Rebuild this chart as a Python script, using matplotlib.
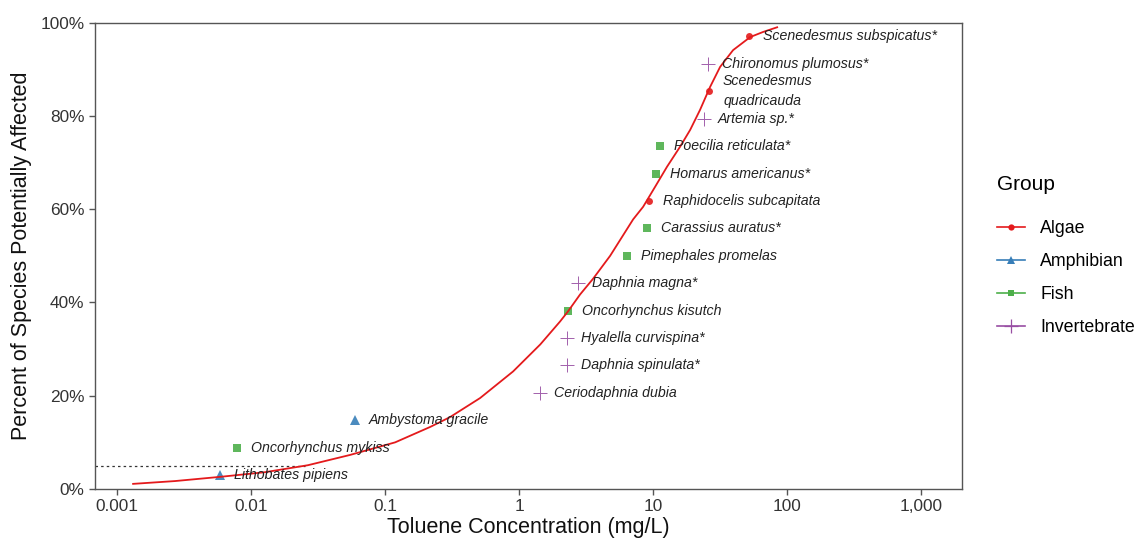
import matplotlib
matplotlib.use('Agg')
import matplotlib.pyplot as plt
from matplotlib.lines import Line2D
from matplotlib.ticker import FixedLocator, NullLocator

plt.rcParams['font.family'] = ['Liberation Sans', 'DejaVu Sans']

# species data (concentration mg/L, percent affected)
species = ['Lithobates pipiens', 'Oncorhynchus mykiss', 'Ambystoma gracile',
           'Ceriodaphnia dubia', 'Daphnia spinulata*', 'Hyalella curvispina*',
           'Oncorhynchus kisutch', 'Daphnia magna*', 'Pimephales promelas',
           'Carassius auratus*', 'Raphidocelis subcapitata', 'Homarus americanus*',
           'Poecilia reticulata*', 'Artemia sp.*', 'Scenedesmus\nquadricauda',
           'Chironomus plumosus*', 'Scenedesmus subspicatus*']
groups = ['Amphibian', 'Fish', 'Amphibian', 'Invertebrate', 'Invertebrate',
          'Invertebrate', 'Fish', 'Invertebrate', 'Fish', 'Fish', 'Algae', 'Fish',
          'Fish', 'Invertebrate', 'Algae', 'Invertebrate', 'Algae']
conc = [0.0059, 0.0079, 0.060, 1.44, 2.28, 2.28, 2.32, 2.76, 6.4, 9.0, 9.3,
        10.5, 11.3, 24.0, 26.2, 25.7, 52.0]
pct = [2.9, 8.8, 14.7, 20.6, 26.5, 32.4, 38.2, 44.1, 50.0, 55.9, 61.8, 67.6,
       73.5, 79.4, 85.3, 91.2, 97.1]

# fitted curve
curve_x = [0.00132, 0.00271, 0.00588, 0.0127, 0.0266, 0.0548, 0.119, 0.217,
           0.305, 0.512, 0.902, 1.44, 2.02, 2.32, 2.85, 3.57, 4.78, 7.09, 8.42,
           10.35, 12.7, 15.9, 18.9, 22.4, 26.6, 31.6, 39.5, 53.0, 66.2, 84.2]
curve_y = [1.1, 1.7, 2.6, 3.6, 5.1, 7.3, 10.0, 13.3, 15.4, 19.5, 25.2, 31.0,
           35.9, 38.1, 41.7, 45.1, 50.0, 57.8, 60.5, 64.8, 69.1, 73.4, 77.0,
           81.3, 86.2, 90.5, 94.1, 96.9, 98.0, 99.0]

hc5_x = 0.0253
hc5_y = 5

group_names = ['Algae', 'Amphibian', 'Fish', 'Invertebrate']
group_colors = {'Algae': '#E41A1C', 'Amphibian': '#377EB8', 'Fish': '#4DAF4A',
                'Invertebrate': '#984EA3'}
group_markers = {'Algae': 'o', 'Amphibian': '^', 'Fish': 's', 'Invertebrate': '+'}
group_sizes = {'Algae': 5, 'Amphibian': 6.5, 'Fish': 5.3, 'Invertebrate': 10}

fig = plt.figure(figsize=(11.35, 5.42), dpi=100)
ax = fig.add_axes([0.0837, 0.0978, 0.764, 0.8605])

ax.set_xscale('log')
ax.set_xlim(0.000686, 2020)
ax.set_ylim(0, 100)

# dotted HC5 line
ax.plot([0.000686, hc5_x], [hc5_y, hc5_y], color='#333333', lw=0.9,
        linestyle=(0, (2, 2.5)), zorder=1)

for g in group_names:
    xs = [c for c, gg in zip(conc, groups) if gg == g]
    ys = [p for p, gg in zip(pct, groups) if gg == g]
    ax.plot(xs, ys, linestyle='none', marker=group_markers[g],
            markersize=group_sizes[g], color=group_colors[g], alpha=0.9,
            markeredgewidth=0.7 if g == 'Invertebrate' else 0, zorder=2)

ax.plot(curve_x, curve_y, color='#E41A1C', lw=1.3, zorder=3)

for name, c, p in zip(species, conc, pct):
    ax.annotate(name, (c, p), xytext=(10, 0), textcoords='offset points',
                va='center', ha='left', fontsize=10.2, style='italic',
                color='#222222', linespacing=1.6, zorder=4)

ax.xaxis.set_major_locator(FixedLocator([0.001, 0.01, 0.1, 1, 10, 100, 1000]))
ax.xaxis.set_minor_locator(NullLocator())
ax.set_xticklabels(['0.001', '0.01', '0.1', '1', '10', '100', '1,000'])
ax.set_yticks([0, 20, 40, 60, 80, 100])
ax.set_yticklabels(['0%', '20%', '40%', '60%', '80%', '100%'])

for s in ax.spines.values():
    s.set_color('#555555')
    s.set_linewidth(1.0)
ax.tick_params(axis='both', colors='#555555', labelcolor='#333333',
               labelsize=12.4, length=4, width=1)

ax.set_xlabel('Toluene Concentration (mg/L)', fontsize=15.5, color='#111111',
              labelpad=2)
ax.set_ylabel('Percent of Species Potentially Affected', fontsize=15.5,
              color='#111111', labelpad=6)

handles = [Line2D([0], [0], color=group_colors[g], marker=group_markers[g],
                  markersize=group_sizes[g] - 0.5, lw=1.2,
                  markeredgewidth=0.9 if g == 'Invertebrate' else 0)
           for g in group_names]
leg = fig.legend(handles, group_names, title='Group', loc='upper left',
                 bbox_to_anchor=(0.878, 0.678), frameon=False, fontsize=12.8,
                 title_fontsize=15, handlelength=1.6, handletextpad=0.85,
                 labelspacing=0.9, borderpad=0, borderaxespad=0,
                 alignment='left')
leg._legend_box.sep = 19

fig.savefig('out.png', dpi=100)
